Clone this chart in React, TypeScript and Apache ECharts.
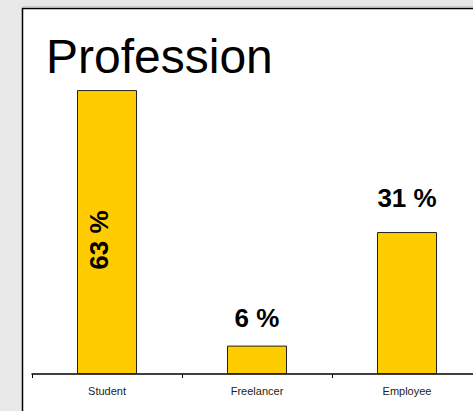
import React, { useEffect, useRef } from "react";
import * as echarts from "echarts";

const categories = ["Student", "Freelancer", "Employee"];
const values = [62.5, 6.25, 31.25];
const valueLabels = ["63 %", "6 %", "31 %"];

export default function App() {
  const ref = useRef<HTMLDivElement>(null);
  useEffect(() => {
    if (!ref.current) return;
    const chart = echarts.init(ref.current, null, { renderer: "svg" });
    const font = "'Liberation Sans', Arial, sans-serif";
    const labelCfgs: any[] = [
      { position: "inside", rotate: 90, offset: [-8, -8] },
      { position: "top", distance: 15 },
      { position: "top", distance: 21 },
    ];
    chart.setOption({
      animation: false,
      backgroundColor: "#e8e8e8",
      graphic: [
        {
          type: "rect",
          z: -10,
          shape: { x: 22.5, y: 8.5, width: 520, height: 520 },
          style: { fill: "#ffffff", stroke: "#000000", lineWidth: 1.5 },
          silent: true,
        },
        {
          type: "line",
          z: -10,
          shape: { x1: 22, y1: 6.8, x2: 480, y2: 6.8 },
          style: { stroke: "#c4c4c4", lineWidth: 1 },
          silent: true,
        },
      ],
      title: {
        text: "Profession",
        left: 41,
        top: 27,
        textStyle: {
          fontSize: 48,
          fontWeight: "normal",
          fontFamily: font,
          color: "#000",
        },
      },
      grid: {
        left: 32,
        top: 56,
        width: 450,
        height: 318,
        outerBoundsMode: "none",
        containLabel: false,
      },
      xAxis: {
        type: "category",
        data: categories,
        axisLine: { lineStyle: { color: "#000", width: 1.5 } },
        axisTick: { show: true, length: 4, lineStyle: { color: "#000", width: 1 } },
        axisLabel: { fontSize: 11, fontFamily: font, color: "#222", margin: 11 },
      },
      yAxis: { type: "value", min: 0, max: 70, show: false },
      series: [
        {
          type: "bar",
          barWidth: 60,
          itemStyle: { color: "#ffcc00", borderColor: "#222", borderWidth: 1 },
          data: values.map((v, i) => ({
            value: v,
            label: {
              show: true,
              formatter: valueLabels[i],
              fontSize: 26,
              fontWeight: "bold",
              fontFamily: font,
              color: "#000",
              ...labelCfgs[i],
            },
          })),
        },
      ],
    });
    return () => chart.dispose();
  }, []);
  return (
    <div
      ref={ref}
      style={{ position: "absolute", left: 0, top: 0, width: 473, height: 411 }}
    />
  );
}
